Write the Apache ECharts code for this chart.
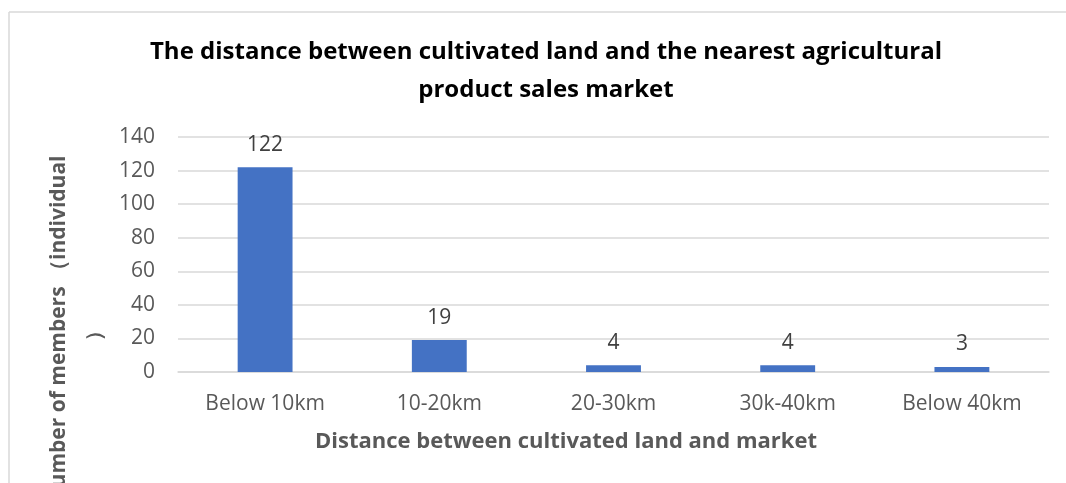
<!DOCTYPE html>
<html>
<head>
<meta charset="utf-8">
<script src="https://cdn.jsdelivr.net/npm/echarts@6/dist/echarts.min.js"></script>
<style>html,body{margin:0;padding:0;background:#fff;}#c{width:1066px;height:483px;}</style>
</head>
<body>
<div id="c"></div>
<script>
const categories = ['Below 10km', '10-20km', '20-30km', '30k-40km', 'Below 40km'];
const members = [122, 19, 4, 4, 3];
const yTicks = { min: 0, max: 140, interval: 20 };
const titleText = 'The distance between cultivated land and the nearest agricultural\nproduct sales market';
const xAxisTitle = 'Distance between cultivated land and market';
const yAxisTitle = 'Number of members （individual\n）';

const chart = echarts.init(document.getElementById('c'), null, { renderer: 'canvas' });
const FONT = '"Open Sans", sans-serif';
chart.setOption({
  animation: false,
  backgroundColor: '#fff',
  title: {
    text: titleText,
    left: 541,
    top: 28,
    textAlign: 'center',
    textStyle: { fontFamily: FONT, fontWeight: 'bold', fontSize: 24, color: '#000', lineHeight: 38 }
  },
  grid: { left: 178, right: 17, top: 137, bottom: 111, containLabel: false },
  xAxis: {
    type: 'category',
    data: categories,
    axisTick: { show: false },
    axisLine: { lineStyle: { color: '#d9d9d9', width: 1.5 } },
    axisLabel: { fontFamily: FONT, fontSize: 21, color: '#595959', margin: 22 }
  },
  yAxis: {
    type: 'value',
    min: yTicks.min, max: yTicks.max, interval: yTicks.interval,
    axisLine: { show: false },
    axisTick: { show: false },
    splitLine: { lineStyle: { color: '#d9d9d9', width: 1.5 } },
    axisLabel: { fontFamily: FONT, fontSize: 21, color: '#595959', margin: 23 }
  },
  series: [{
    type: 'bar',
    data: members,
    barWidth: '31.5%',
    itemStyle: { color: '#4472c4' },
    label: { show: true, position: 'top', distance: 12, fontFamily: FONT, fontSize: 21, color: '#404040' }
  }],
  graphic: [
    { type: 'line', shape: { x1: 9, y1: 12, x2: 1066, y2: 12 }, style: { stroke: '#d9d9d9', lineWidth: 1.5 } },
    { type: 'line', shape: { x1: 9, y1: 12, x2: 9, y2: 483 }, style: { stroke: '#d9d9d9', lineWidth: 1.5 } },
    { type: 'text', x: 566, y: 442,
      style: { text: xAxisTitle, align: 'center', verticalAlign: 'middle', font: 'bold 22px "Open Sans", sans-serif', fill: '#595959' } },
    { type: 'text', x: 77, y: 330, rotation: Math.PI / 2,
      style: { text: yAxisTitle, align: 'center', verticalAlign: 'middle', font: 'bold 21px "Open Sans", sans-serif', fill: '#595959', lineHeight: 36 } }
  ]
});
</script>
</body>
</html>
